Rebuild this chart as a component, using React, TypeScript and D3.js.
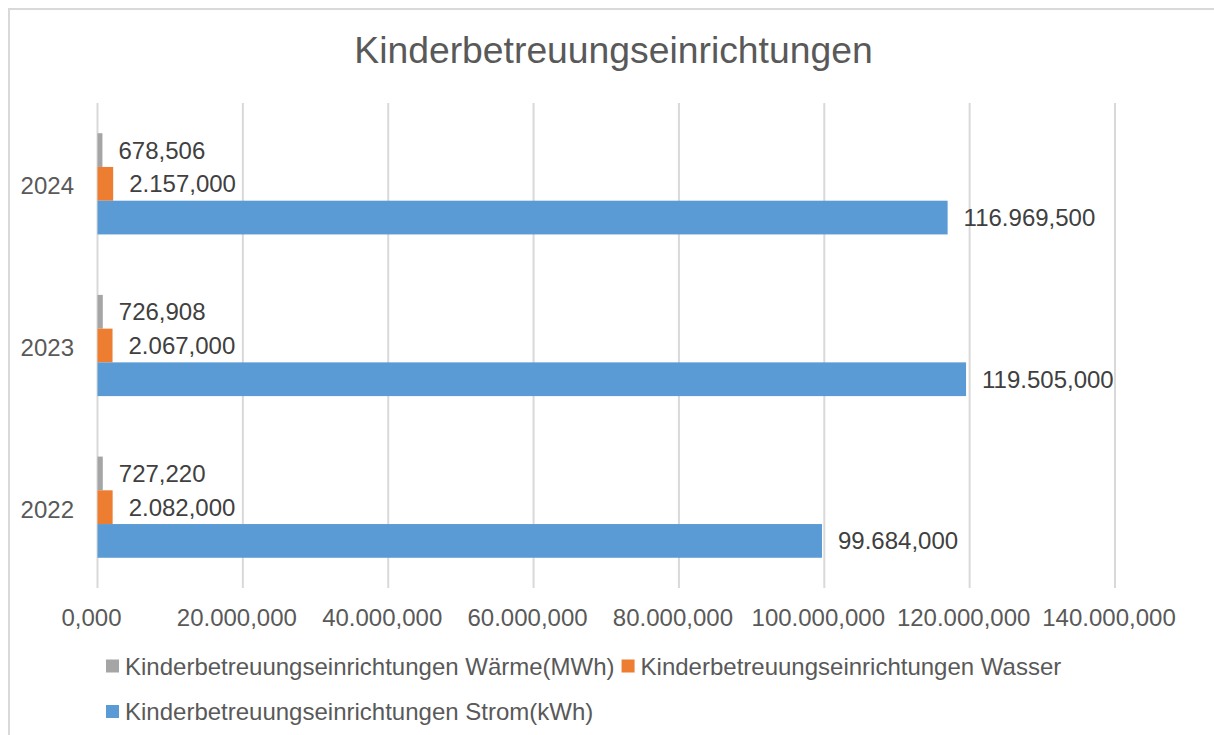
import { useEffect, useRef } from "react";
import * as d3 from "d3";

const years = ["2024", "2023", "2022"];
const seriesNames = [
  "Kinderbetreuungseinrichtungen Wärme(MWh)",
  "Kinderbetreuungseinrichtungen Wasser",
  "Kinderbetreuungseinrichtungen Strom(kWh)",
];
const seriesColors = ["#a5a5a5", "#ed7d31", "#5b9bd5"];
// values per year, same order as years (as shown in the labels)
const waerme = [678.506, 726.908, 727.22];
const wasser = [2157, 2067, 2082];
const strom = [116969.5, 119505, 99684];
const xTicks = [0, 20000, 40000, 60000, 80000, 100000, 120000, 140000];

const W = 1214;
const H = 735;
const font = "'Liberation Sans', Arial, sans-serif";

const de = d3.formatLocale({
  decimal: ",",
  thousands: ".",
  grouping: [3],
  currency: ["", " €"],
});
const fmt = de.format(",.3f");

const App = () => {
  const ref = useRef<SVGSVGElement>(null);

  useEffect(() => {
    const svg = d3.select(ref.current);
    svg.selectAll("*").remove();

    const margin = { left: 97.5, right: 1115, top: 103, bottom: 588 };

    svg.append("rect")
      .attr("width", W).attr("height", H).attr("fill", "#fff");

    // chart frame
    svg.append("rect")
      .attr("x", 9).attr("y", 9)
      .attr("width", W + 20).attr("height", H + 20)
      .attr("fill", "none")
      .attr("stroke", "#d9d9d9")
      .attr("stroke-width", 2);

    svg.append("text")
      .attr("x", 613.5).attr("y", 63)
      .attr("text-anchor", "middle")
      .attr("font-family", font)
      .attr("font-size", 37.3)
      .attr("fill", "#595959")
      .text("Kinderbetreuungseinrichtungen");

    const x = d3.scaleLinear().domain([0, 140000]).range([margin.left, margin.right]);
    const y = d3.scaleBand().domain(years).range([margin.top, margin.bottom])
      .paddingInner(0.374).paddingOuter(0.187);
    const ySub = d3.scaleBand().domain(seriesNames).range([0, y.bandwidth()]);

    // gridlines
    svg.append("g").selectAll("line")
      .data(xTicks).enter()
      .append("line")
      .attr("x1", (d) => x(d)).attr("x2", (d) => x(d))
      .attr("y1", margin.top).attr("y2", margin.bottom)
      .attr("stroke", "#d9d9d9")
      .attr("stroke-width", 2);

    // x tick labels
    svg.append("g").selectAll("text")
      .data(xTicks).enter()
      .append("text")
      .attr("x", (d) => x(d) - 6)
      .attr("y", 626)
      .attr("text-anchor", "middle")
      .attr("font-family", font)
      .attr("font-size", 24)
      .attr("fill", "#595959")
      .text((d) => fmt(d));

    // y labels
    svg.append("g").selectAll("text")
      .data(years).enter()
      .append("text")
      .attr("x", 74)
      .attr("y", (d) => (y(d) as number) + y.bandwidth() / 2 + 10.5)
      .attr("text-anchor", "end")
      .attr("font-family", font)
      .attr("font-size", 24)
      .attr("fill", "#595959")
      .text((d) => d);

    const series = [waerme, wasser, strom];
    const rows = years.flatMap((yr, i) =>
      seriesNames.map((name, s) => ({
        year: yr,
        name,
        color: seriesColors[s],
        value: series[s][i],
      }))
    );

    const bars = svg.append("g");
    bars.selectAll("rect")
      .data(rows).enter()
      .append("rect")
      .attr("x", x(0))
      .attr("y", (d) => (y(d.year) as number) + (ySub(d.name) as number))
      .attr("width", (d) => x(d.value) - x(0))
      .attr("height", ySub.bandwidth())
      .attr("fill", (d) => d.color);

    bars.selectAll("text")
      .data(rows).enter()
      .append("text")
      .attr("x", (d) => Math.max(x(d.value), x(0) + 5) + 16)
      .attr("y", (d) => (y(d.year) as number) + (ySub(d.name) as number) + ySub.bandwidth() / 2 + 8.5)
      .attr("font-family", font)
      .attr("font-size", 24)
      .attr("fill", "#404040")
      .text((d) => fmt(d.value));

    // legend
    const legend = svg.append("g");
    const rowsY = [666, 711.5];
    const legendX = 106;
    let cx = legendX;
    let row = 0;
    seriesNames.forEach((name, i) => {
      const g = legend.append("g");
      const t = g.append("text")
        .attr("font-family", font)
        .attr("font-size", 24)
        .attr("fill", "#595959")
        .text(name);
      const tw = (t.node() as SVGTextElement).getComputedTextLength();
      const itemW = 19 + tw;
      if (cx + itemW > 1180) {
        row += 1;
        cx = legendX;
      }
      g.append("rect")
        .attr("x", cx).attr("y", rowsY[row] - 6.5)
        .attr("width", 13).attr("height", 13)
        .attr("fill", seriesColors[i]);
      t.attr("x", cx + 19).attr("y", rowsY[row] + 8.5);
      cx += itemW + 7;
    });
  }, []);

  return (
    <svg
      ref={ref}
      width={W}
      height={H}
      style={{ position: "absolute", left: 0, top: 0, display: "block" }}
    />
  );
};

export default App;
